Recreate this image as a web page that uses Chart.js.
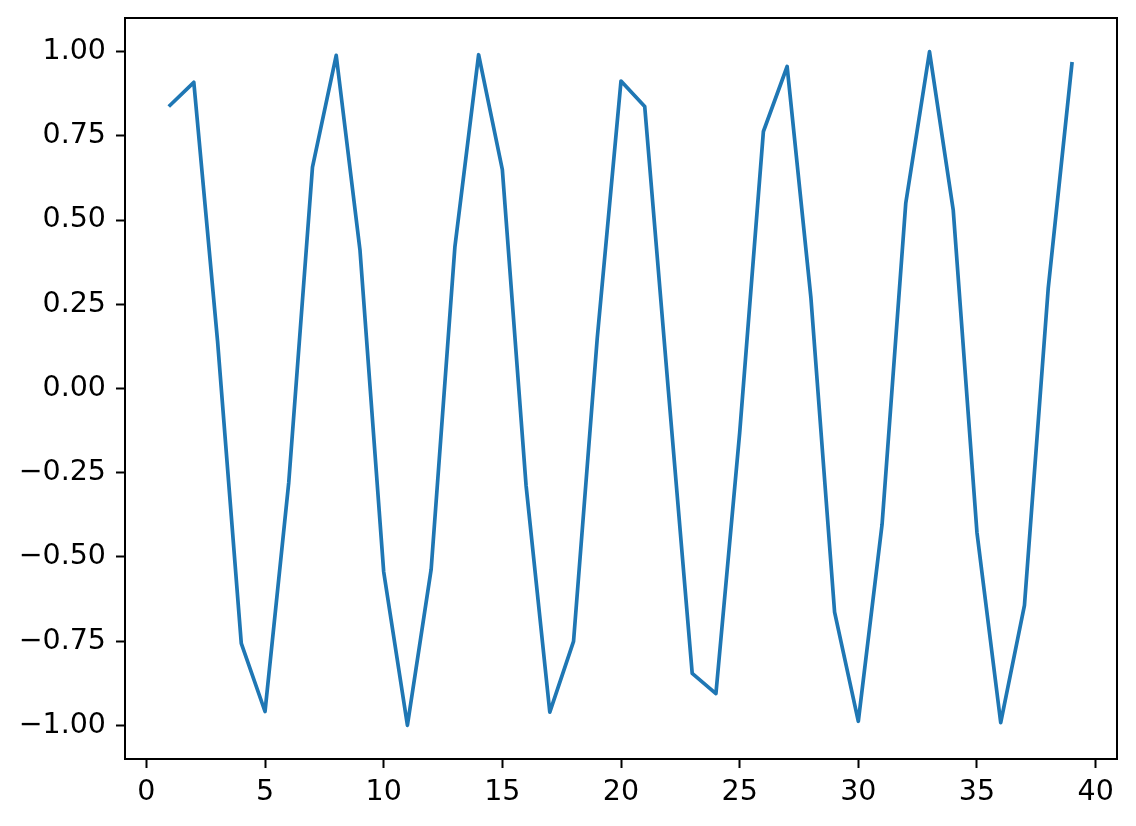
<!DOCTYPE html>
<html>
<head>
<meta charset="utf-8">
<script src="https://cdn.jsdelivr.net/npm/chart.js@4/dist/chart.umd.min.js"></script>
<style>
html,body{margin:0;padding:0;background:#fff;}
canvas{display:block;}
</style>
</head>
<body>
<canvas id="c" width="1136" height="826"></canvas>
<script>
const xValues = [1,2,3,4,5,6,7,8,9,10,11,12,13,14,15,16,17,18,19,20,21,22,23,24,25,26,27,28,29,30,31,32,33,34,35,36,37,38,39];
const yValues = [0.841,0.909,0.141,-0.757,-0.959,-0.279,0.657,0.989,0.412,-0.544,-1.000,-0.537,0.420,0.991,0.650,-0.288,-0.961,-0.751,0.150,0.913,0.837,-0.009,-0.846,-0.906,-0.132,0.763,0.956,0.271,-0.664,-0.988,-0.404,0.551,1.000,0.529,-0.428,-0.992,-0.644,0.296,0.964];
const xTicks = [0,5,10,15,20,25,30,35,40];
const yTicks = [-1.00,-0.75,-0.50,-0.25,0.00,0.25,0.50,0.75,1.00];

const fontSpec = {family: "'DejaVu Sans', sans-serif", size: 28.5};

const boxPlugin = {
  id: 'box',
  afterDraw(chart) {
    const a = chart.chartArea, ctx = chart.ctx;
    ctx.save();
    ctx.strokeStyle = '#000';
    ctx.lineWidth = 2;
    ctx.strokeRect(a.left, a.top, a.right - a.left, a.bottom - a.top);
    ctx.restore();
  }
};

new Chart(document.getElementById('c'), {
  type: 'line',
  data: {
    datasets: [{
      data: xValues.map((x, i) => ({x: x, y: yValues[i]})),
      borderColor: '#1f77b4',
      borderWidth: 3.7,
      borderJoinStyle: 'round',
      borderCapStyle: 'square',
      pointRadius: 0,
      tension: 0,
      fill: false
    }]
  },
  options: {
    responsive: false,
    animation: false,
    devicePixelRatio: 1,
    layout: {padding: {top: 18, right: 19, left: 0, bottom: 0}},
    plugins: {legend: {display: false}, tooltip: {enabled: false}},
    scales: {
      x: {
        type: 'linear',
        min: -0.9,
        max: 40.9,
        afterBuildTicks: s => { s.ticks = xTicks.map(v => ({value: v})); },
        afterFit: s => { s.height = 67; s.paddingLeft = 0; s.paddingRight = 0; },
        border: {display: false},
        grid: {display: true, drawOnChartArea: false, drawTicks: true, tickLength: 9, tickWidth: 2, tickColor: '#000'},
        ticks: {color: '#000', font: fontSpec, padding: 7, maxRotation: 0, autoSkip: false, callback: v => String(v)}
      },
      y: {
        type: 'linear',
        min: -1.1,
        max: 1.1,
        afterBuildTicks: s => { s.ticks = yTicks.map(v => ({value: v})); },
        afterFit: s => { s.width = 125; s.paddingTop = 0; s.paddingBottom = 0; },
        border: {display: false},
        grid: {display: true, drawOnChartArea: false, drawTicks: true, tickLength: 9, tickWidth: 2, tickColor: '#000'},
        ticks: {color: '#000', font: fontSpec, padding: 10, autoSkip: false, callback: v => v.toFixed(2).replace('-', '\u2212')}
      }
    }
  },
  plugins: [boxPlugin]
});
</script>
</body>
</html>
